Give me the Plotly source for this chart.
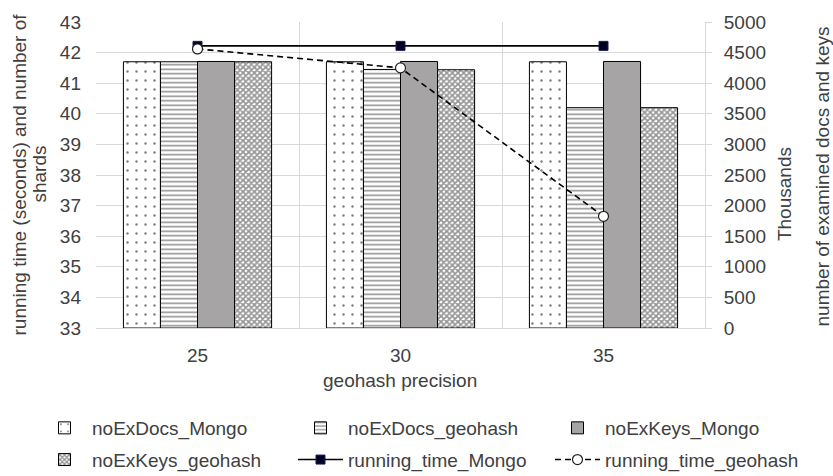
import plotly.graph_objects as go

categories = ["25", "30", "35"]
noExDocs_Mongo = [4350, 4350, 4350]
noExDocs_geohash = [4350, 4225, 3600]
noExKeys_Mongo = [4355, 4355, 4355]
noExKeys_geohash = [4350, 4220, 3600]
running_time_Mongo = [42.22, 42.22, 42.22]
running_time_geohash = [42.12, 41.50, 36.65]

FONT = "Liberation Sans, Arial, sans-serif"
TXT = "#404040"
GRID = "#d9d9d9"

fig = go.Figure()
bar_line = dict(color="#000000", width=1)
fig.add_trace(go.Bar(name="noExDocs_Mongo", x=categories, y=noExDocs_Mongo, legend="legend", legendgroup="a",
                     marker=dict(color="white", line=bar_line,
                                 pattern=dict(shape=".", fgcolor="#000000", bgcolor="white", size=9, solidity=0.06))))
fig.add_trace(go.Bar(name="noExDocs_geohash", x=categories, y=noExDocs_geohash, legend="legend2", legendgroup="b",
                     marker=dict(color="white", line=bar_line,
                                 pattern=dict(shape="-", fgcolor="#222222", bgcolor="white", size=4.5, solidity=0.35))))
fig.add_trace(go.Bar(name="noExKeys_Mongo", x=categories, y=noExKeys_Mongo, legend="legend3", legendgroup="c",
                     marker=dict(color="#a6a4a4", line=bar_line)))
fig.add_trace(go.Bar(name="noExKeys_geohash", x=categories, y=noExKeys_geohash, legend="legend", legendgroup="d",
                     marker=dict(color="white", line=bar_line,
                                 pattern=dict(shape="x", fgcolor="#2a2a2a", bgcolor="white", size=4, solidity=0.65))))
fig.add_trace(go.Scatter(name="running_time_Mongo", x=categories, y=running_time_Mongo, yaxis="y2",
                         legend="legend2", legendgroup="e",
                         mode="lines+markers", line=dict(color="#000000", width=1.6),
                         marker=dict(symbol="square", size=9, color="#000022", line=dict(color="#1a1a5a", width=1))))
fig.add_trace(go.Scatter(name="running_time_geohash", x=categories, y=running_time_geohash, yaxis="y2",
                         legend="legend3", legendgroup="f",
                         mode="lines+markers", line=dict(color="#000000", width=1.6, dash="6px,4px"),
                         marker=dict(symbol="circle", size=10, color="white", line=dict(color="#222222", width=1.2))))

PW = 609.0
PH = 313.0
def px_x(p):
    return (p - 96) / PW
def px_y(p):
    return (328 - p) / PH

leg_common = dict(orientation="v", xanchor="left", yanchor="top", yref="container", y=(476 - 409) / 476.0,
                  font=dict(size=19, color=TXT), tracegroupgap=4, itemwidth=45,
                  traceorder="grouped", bgcolor="rgba(0,0,0,0)")

fig.update_layout(
    width=833, height=476,
    margin=dict(l=96, r=128, t=15, b=148),
    paper_bgcolor="white", plot_bgcolor="white",
    font=dict(family=FONT, size=19, color=TXT),
    barmode="group", bargap=0.27, bargroupgap=0,
    showlegend=True,
    legend=dict(x=px_x(37), **leg_common),
    legend2=dict(x=px_x(293), **leg_common),
    legend3=dict(x=px_x(550), **leg_common),
    xaxis=dict(type="category", tickson="boundaries", showgrid=True, gridcolor=GRID,
               showline=True, linecolor=GRID, ticks="", tickfont=dict(size=19, color=TXT),
               range=[-0.5, 2.5], ticklabelstandoff=10),
    yaxis=dict(side="right", range=[0, 5000], dtick=500, showgrid=True, gridcolor=GRID,
               showline=True, linecolor=GRID, ticks="outside", ticklen=6, tickcolor=GRID,
               tickfont=dict(size=19, color=TXT), ticklabelstandoff=8, zeroline=False),
    yaxis2=dict(overlaying="y", side="left", range=[33, 43], dtick=1, showgrid=False,
                showline=False, ticks="", tickfont=dict(size=19, color=TXT),
                ticklabelstandoff=14, zeroline=False),
)

ann = [
    dict(text="running time (seconds) and number of", x=px_x(20), y=px_y(171), textangle=-90),
    dict(text="shards", x=px_x(40), y=px_y(171), textangle=-90),
    dict(text="Thousands", x=px_x(784), y=px_y(191), textangle=-90),
    dict(text="number of examined docs and keys", x=px_x(822), y=px_y(173), textangle=-90),
    dict(text="geohash precision", x=px_x(400), y=px_y(382), textangle=0),
]
for a in ann:
    fig.add_annotation(xref="paper", yref="paper", showarrow=False, xanchor="center", yanchor="middle",
                       font=dict(size=19, color=TXT, family=FONT), **a)

fig.write_html("out.html")
